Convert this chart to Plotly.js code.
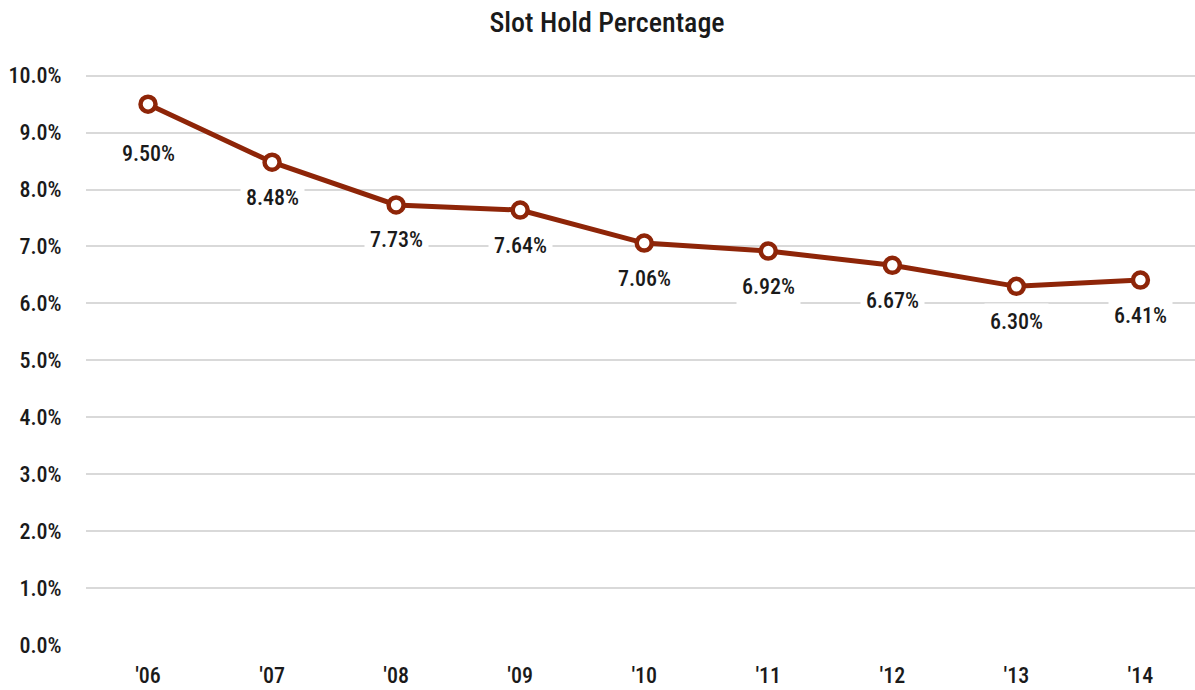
<!DOCTYPE html>
<html>
<head>
<meta charset="utf-8">
<script src="https://cdn.plot.ly/plotly-3.0.1.min.js"></script>
<style>html,body{margin:0;padding:0;background:#fff;}#chart{width:1195px;height:690px;}</style>
</head>
<body>
<div id="chart"></div>
<script>
const years = ["'06", "'07", "'08", "'09", "'10", "'11", "'12", "'13", "'14"];
const holdPct = [9.50, 8.48, 7.73, 7.64, 7.06, 6.92, 6.67, 6.30, 6.41];
const yTickVals = [0, 1, 2, 3, 4, 5, 6, 7, 8, 9, 10];
const yTickText = yTickVals.map(v => v.toFixed(1) + '%');

const FONT = '"Liberation Sans Narrow", "Arial Narrow", "Roboto Condensed", sans-serif';
const RED = '#8E2508';
const W = 500;

const trace = {
  x: years,
  y: holdPct,
  type: 'scatter',
  mode: 'lines+markers',
  line: {color: RED, width: 5},
  marker: {size: 15, color: '#ffffff', line: {color: RED, width: 4.5}},
  hoverinfo: 'x+y',
  cliponaxis: false
};

const annotations = holdPct.map((v, i) => ({
  x: years[i], y: v, xref: 'x', yref: 'y',
  text: v.toFixed(2) + '%',
  showarrow: false,
  yshift: i === 0 ? -49 : -35,
  bgcolor: '#ffffff',
  borderpad: 5,
  font: {family: FONT, size: 22, weight: W, color: '#1a1a1a'}
}));

const layout = {
  width: 1195, height: 690,
  margin: {l: 86, r: 0, t: 70, b: 45},
  paper_bgcolor: '#ffffff', plot_bgcolor: '#ffffff',
  showlegend: false,
  title: {text: 'Slot Hold Percentage', x: 0.508, xanchor: 'center', y: 0.968, yanchor: 'middle',
          font: {family: FONT, size: 28, weight: W, color: '#1a1a1a'}},
  xaxis: {
    type: 'category', range: [-0.5, 8.44],
    showgrid: false, zeroline: false, showline: false,
    ticks: 'outside', ticklen: 11, tickcolor: 'rgba(0,0,0,0)',
    tickfont: {family: FONT, size: 22, weight: W, color: '#1a1a1a'},
    fixedrange: true
  },
  yaxis: {
    range: [0, 10.1],
    tickvals: yTickVals, ticktext: yTickText,
    showgrid: true, gridcolor: '#d9d9d9', gridwidth: 2,
    zeroline: false, showline: false,
    ticks: 'outside', ticklen: 19, tickcolor: 'rgba(0,0,0,0)',
    tickfont: {family: FONT, size: 22, weight: W, color: '#1a1a1a'},
    fixedrange: true
  },
  annotations: annotations
};

Plotly.newPlot('chart', [trace], layout, {displayModeBar: false, staticPlot: true});
</script>
</body>
</html>
